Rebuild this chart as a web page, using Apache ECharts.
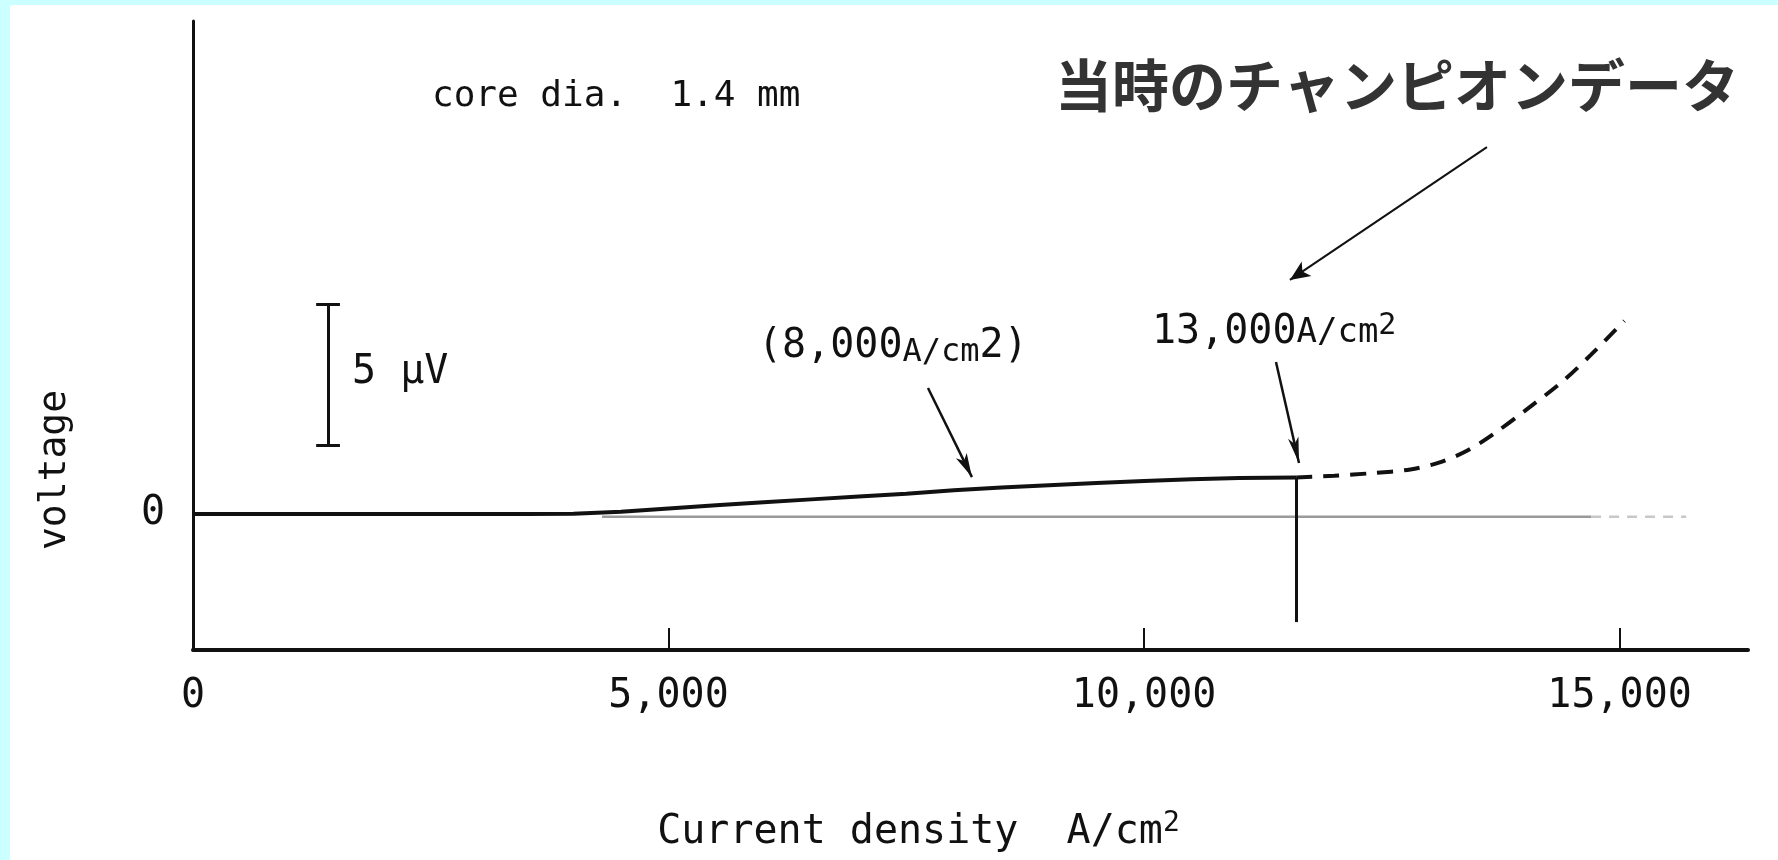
<!DOCTYPE html>
<html>
<head>
<meta charset="utf-8">
<title>core dia. 1.4 mm</title>
<script src="https://cdn.jsdelivr.net/npm/echarts@6/dist/echarts.min.js"></script>
<style>
  html, body { margin: 0; padding: 0; background: #fff; }
  #chart { width: 1778px; height: 860px; }
</style>
</head>
<body>
<div id="chart"></div>
<script>
// measured trace, current density in A/cm2, voltage in µV
const solidX = [0, 1000, 2000, 3000, 3500, 4000, 4500, 5000, 5500, 6000, 6500, 7000, 7500, 8000, 8500, 9000, 9500, 10000, 10500, 11000, 11600]
const solidY = [0, 0, 0, 0, 0, 0.01, 0.08, 0.2, 0.31, 0.42, 0.52, 0.62, 0.72, 0.84, 0.94, 1.02, 1.10, 1.17, 1.23, 1.28, 1.30]

// extrapolated part (dashed)
const dashX = [11600, 12000, 12400, 12800, 13100, 13400, 13700, 14000, 14400, 14700, 15050]
const dashY = [1.30, 1.36, 1.45, 1.58, 1.82, 2.25, 2.9, 3.65, 4.7, 5.65, 6.85]

// faint zero trace under the curve
const baseX = [4300, 14700]
const baseY = [-0.1, -0.1]
const baseFadeX = [14700, 15700]
const baseFadeY = [-0.1, -0.1]

// quench marker
const quenchX = 11600
const quenchTop = 1.30
const quenchBottom = -3.83

// 5 µV scale bar
const scaleBarX = 1420
const scaleBarLow = 2.45
const scaleBarHigh = 7.45
const scaleBarHalf = 125

const xTicks = [5000, 10000, 15000]
const xLabels = [0, 5000, 10000, 15000]
const yLabels = [0]

const mono = 'DejaVu Sans Mono'
const ink = '#111'

function pairs (xs, ys) {
  return xs.map((x, i) => [x, ys[i]])
}

function seg (a, b, endSymbol, size, width, curve) {
  return [
    { coord: a, symbol: 'none' },
    { coord: b, symbol: endSymbol || 'none', symbolSize: size || 10, lineStyle: { width: width || 2, color: ink, type: 'solid', curveness: curve || 0 } }
  ]
}

const chart = echarts.init(document.getElementById('chart'))

const option = {
  animation: false,
  backgroundColor: '#fff',
  grid: { left: 193, right: 30, top: 21, bottom: 210, outerBoundsMode: 'none' },
  xAxis: {
    type: 'value',
    min: 0,
    max: 16350,
    splitLine: { show: false },
    axisLine: { onZero: false, lineStyle: { color: ink, width: 4 } },
    axisTick: { inside: true, length: 22, customValues: xTicks, lineStyle: { color: ink, width: 2 } },
    axisLabel: {
      customValues: xLabels,
      margin: 27,
      color: ink,
      fontFamily: mono,
      fontSize: 40,
      formatter: v => v.toLocaleString('en-US')
    },
    name: 'Current density  A/cm{sup|2}',
    nameLocation: 'middle',
    nameGap: 160,
    nameTextStyle: {
      color: ink,
      fontFamily: mono,
      fontSize: 40,
      padding: [0, 104, 0, 0],
      rich: { sup: { fontFamily: mono, fontSize: 28, color: ink, padding: [0, 0, 18, 0] } }
    }
  },
  yAxis: {
    type: 'value',
    min: -4.82,
    max: 17.48,
    splitLine: { show: false },
    axisLine: { onZero: false, lineStyle: { color: ink, width: 3 } },
    axisTick: { show: false },
    axisLabel: { customValues: yLabels, margin: 28, color: ink, fontFamily: mono, fontSize: 40 }
  },
  series: [
    {
      type: 'line',
      data: pairs(baseX, baseY),
      showSymbol: false,
      silent: true,
      lineStyle: { color: '#9a9a9a', width: 2.5 },
      z: 1
    },
    {
      type: 'line',
      data: pairs(baseFadeX, baseFadeY),
      showSymbol: false,
      silent: true,
      lineStyle: { color: '#c8c8c8', width: 2.5, type: [10, 8] },
      z: 1
    },
    {
      type: 'line',
      data: pairs(solidX, solidY),
      showSymbol: false,
      silent: true,
      lineStyle: { color: ink, width: 4 },
      z: 3,
      markLine: {
        silent: true,
        symbol: 'none',
        label: { show: false },
        emphasis: { disabled: true },
        data: [
          // quench marker
          seg([quenchX, quenchTop], [quenchX, quenchBottom], 'none', 0, 3),
          // scale bar
          seg([scaleBarX, scaleBarLow], [scaleBarX, scaleBarHigh], 'none', 0, 3),
          seg([scaleBarX - scaleBarHalf, scaleBarHigh], [scaleBarX + scaleBarHalf, scaleBarHigh], 'none', 0, 3),
          seg([scaleBarX - scaleBarHalf, scaleBarLow], [scaleBarX + scaleBarHalf, scaleBarLow], 'none', 0, 3),
          // annotation arrows
          seg([7728, 4.47], [8190, 1.31], 'arrow', [9, 24], 2.5),
          seg([11387, 5.39], [11629, 1.81], 'arrow', [8, 26], 2.5, 0.08),
          seg([13605, 13.01], [11534, 8.30], 'arrow', [13, 20], 2)
        ]
      }
    },
    {
      type: 'line',
      data: pairs(dashX, dashY),
      showSymbol: false,
      silent: true,
      smooth: 0.3,
      lineStyle: { color: ink, width: 4, type: [16, 11] },
      z: 3
    }
  ],
  graphic: [
    { type: 'rect', left: 0, top: 0, shape: { width: 10, height: 860 }, style: { fill: '#ccffff' }, z: -1 },
    { type: 'rect', left: 0, top: 0, shape: { width: 1778, height: 5 }, style: { fill: '#ccffff' }, z: -1 },
    {
      type: 'text', x: 432, y: 97,
      style: { text: 'core dia.  1.4 mm', fontFamily: mono, fontSize: 36, fill: ink, align: 'left', verticalAlign: 'middle' }
    },
    {
      type: 'text', x: 352, y: 373,
      style: { text: '5 µV', fontFamily: mono, fontSize: 40, fill: ink, align: 'left', verticalAlign: 'middle' }
    },
    {
      type: 'text', x: 758, y: 347,
      style: {
        text: '(8,000{u|A/cm}2)',
        fontFamily: mono, fontSize: 40, fill: ink, align: 'left', verticalAlign: 'middle',
        rich: { u: { fontFamily: mono, fontSize: 32, fill: ink, padding: [12, 0, 0, 0] } }
      }
    },
    {
      type: 'text', x: 1152, y: 333,
      style: {
        text: '13,000{u|A/cm}{s|2}',
        fontFamily: mono, fontSize: 40, fill: ink, align: 'left', verticalAlign: 'middle',
        rich: {
          u: { fontFamily: mono, fontSize: 34, fill: ink },
          s: { fontFamily: mono, fontSize: 30, fill: ink, padding: [0, 0, 14, 0] }
        }
      }
    },
    {
      type: 'text', x: 1055, y: 85,
      style: { text: '当時のチャンピオンデータ', fontFamily: 'Noto Sans CJK JP', fontWeight: 'bold', fontSize: 57, fill: '#333', align: 'left', verticalAlign: 'middle' }
    },
    {
      type: 'text', x: 55, y: 470, rotation: Math.PI / 2,
      style: { text: 'voltage', fontFamily: mono, fontSize: 38, fill: ink, align: 'center', verticalAlign: 'middle' }
    }
  ]
}

chart.setOption(option)
</script>
</body>
</html>
